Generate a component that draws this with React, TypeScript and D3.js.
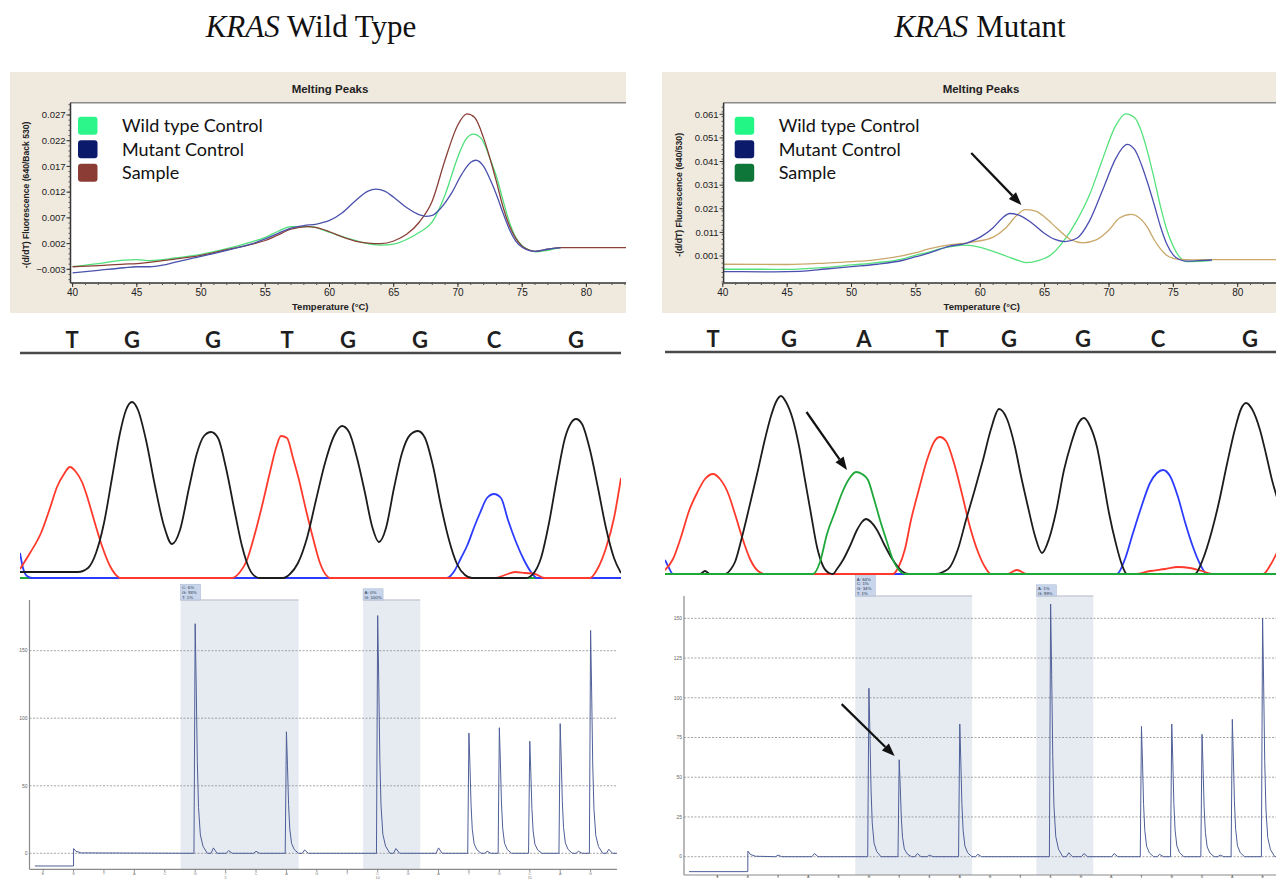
import React from 'react';
import * as d3 from 'd3';

type Pt = [number, number];

// ---------- melting peaks: [temperature °C, -(d/dT) fluorescence] ----------
const wtWildCtrl: Pt[] = [[40,-0.0025],[42,-0.0019],[44,-0.0012],[45,-0.0011],[46,-0.0013],[48,-0.0008],[50,-0.0001],[52,0.0010],[54,0.0024],[55,0.0032],[56,0.0044],[57,0.0053],[58.5,0.0053],[60,0.0042],[62,0.0026],[64,0.0017],[65,0.0019],[66,0.0028],[67,0.0042],[68,0.0062],[69,0.0115],[70,0.0189],[70.6,0.0222],[71.2,0.0233],[71.8,0.0225],[72.5,0.0185],[73,0.0150],[73.5,0.0105],[74,0.0062],[74.5,0.0032],[75,0.0016],[75.5,0.0008],[76,0.0004],[77,0.0007],[78,0.0012]];
const wtMutCtrl: Pt[] = [[40,-0.0037],[42,-0.0032],[44,-0.0027],[45,-0.0025],[46,-0.0025],[47,-0.0022],[48,-0.0016],[50,-0.0005],[52,0.0007],[54,0.0020],[55,0.0029],[56,0.0040],[57,0.0050],[58,0.0055],[59,0.0058],[60,0.0065],[61,0.0080],[62,0.0103],[63,0.0122],[63.6,0.0126],[64.3,0.0122],[65,0.0110],[66,0.0090],[67,0.0076],[67.5,0.0073],[68,0.0075],[68.7,0.0090],[69.5,0.0118],[70.3,0.0155],[71,0.0178],[71.4,0.0182],[72,0.0170],[72.5,0.0145],[73,0.0115],[73.5,0.0080],[74,0.0048],[74.5,0.0025],[75,0.0013],[75.5,0.0007],[76,0.0005],[77,0.0009],[78,0.0012]];
const wtSample: Pt[] = [[40,-0.0025],[42,-0.0023],[44,-0.0020],[45,-0.0019],[47,-0.0013],[50,-0.0003],[52,0.0008],[54,0.0019],[55,0.0026],[56,0.0037],[57,0.0048],[58.3,0.0053],[59,0.0051],[60,0.0043],[61,0.0033],[62,0.0025],[63,0.0021],[64,0.0020],[65,0.0025],[66,0.0038],[67,0.0062],[68,0.0103],[69,0.0183],[70,0.0251],[70.7,0.0272],[71.3,0.0265],[72,0.0225],[72.5,0.0185],[73,0.0140],[73.5,0.0092],[74,0.0055],[74.5,0.0030],[75,0.0015],[75.5,0.0008],[76,0.0005],[77,0.0009],[78,0.0012],[80,0.0012],[83.2,0.0012]];

const mtWildCtrl: Pt[] = [[40,-0.0046],[43,-0.0046],[45,-0.0047],[48,-0.0038],[50,-0.0028],[52,-0.0018],[54,-0.0002],[55,0.0014],[56,0.0026],[57,0.0042],[58,0.0052],[58.8,0.0056],[60,0.0047],[61,0.0030],[62,0.0010],[63,-0.0010],[63.6,-0.0018],[64.5,-0.0010],[65.5,0.0015],[66.5,0.0075],[67.5,0.0160],[68.5,0.0270],[69.5,0.0420],[70.5,0.0560],[71.3,0.0612],[72,0.0595],[72.5,0.0540],[73,0.0450],[73.5,0.0340],[74,0.0220],[74.5,0.0120],[75,0.0050],[75.5,0.0005],[76,-0.0014],[77,-0.0013],[78,-0.0008]];
const mtMutCtrl: Pt[] = [[40,-0.0056],[44,-0.0057],[46,-0.0055],[48,-0.0045],[50,-0.0035],[52,-0.0025],[54,-0.0008],[55,0.0007],[56,0.0022],[57.5,0.0050],[59,0.0066],[60,0.0090],[61,0.0130],[61.7,0.0170],[62.3,0.0190],[63,0.0183],[64,0.0150],[65,0.0105],[65.8,0.0080],[66.6,0.0071],[67.5,0.0085],[68.5,0.0160],[69.5,0.0288],[70.5,0.0420],[71,0.0465],[71.4,0.0483],[72,0.0460],[72.5,0.0400],[73,0.0320],[73.5,0.0230],[74,0.0135],[74.5,0.0060],[75,0.0014],[75.5,-0.0006],[76,-0.0012],[77,-0.0010],[78,-0.0007]];
const mtSample: Pt[] = [[40,-0.0025],[45,-0.0026],[48,-0.0020],[50,-0.0014],[52,-0.0005],[54,0.0012],[55,0.0024],[56,0.0040],[57.5,0.0056],[59.5,0.0070],[61,0.0090],[62,0.0130],[62.8,0.0180],[63.5,0.0206],[64.3,0.0200],[65,0.0175],[66,0.0125],[67,0.0080],[68,0.0066],[69,0.0078],[70,0.0120],[70.8,0.0170],[71.7,0.0186],[72.5,0.0165],[73,0.0130],[73.5,0.0080],[74,0.0040],[74.5,0.0012],[75,0.0000],[75.5,-0.0004],[76.5,-0.0006],[78,-0.0005],[83.2,-0.0005]];

const legendLabels = ['Wild type Control', 'Mutant Control', 'Sample'];
const tempTicks = [40, 45, 50, 55, 60, 65, 70, 75, 80];
const wtFluorTicks = [-0.003, 0.002, 0.007, 0.012, 0.017, 0.022, 0.027];
const mtFluorTicks = [0.001, 0.011, 0.021, 0.031, 0.041, 0.051, 0.061];

// ---------- sequencing traces: [scan, signal] ----------
const wtBlack: Pt[] = [[0,6],[58,6],[68,10],[76,25],[84,55],[92,100],[100,145],[106,168],[112,176],[118,168],[126,138],[135,92],[144,52],[152,34],[160,48],[169,90],[177,125],[184,142],[191,146],[198,140],[206,110],[215,65],[222,32],[229,10],[236,1],[240,0],[263,0],[270,4],[278,15],[287,40],[296,78],[305,115],[314,142],[322,152],[329,146],[337,120],[345,85],[352,52],[359,36],[366,50],[374,90],[382,125],[390,143],[398,147],[405,140],[413,112],[421,72],[429,38],[437,14],[445,3],[452,0],[506,0],[513,4],[521,20],[529,55],[537,100],[545,140],[551,155],[556,159],[562,154],[570,128],[578,90],[586,50],[594,20],[601,5]];
const wtRed: Pt[] = [[0,9],[10,25],[21,45],[30,70],[37,91],[44,104],[50,111],[56,106],[62,96],[66,85],[74,58],[82,32],[90,12],[97,2],[100,0],[212,0],[220,6],[227,18],[234,41],[242,72],[250,106],[256,130],[261,142],[267,140],[273,120],[279,98],[286,68],[293,40],[300,15],[306,3],[310,0],[475,0],[485,3],[495,6],[505,5],[515,4],[525,0],[570,0],[578,10],[586,30],[594,60],[601,100]];
const wtBlue: Pt[] = [[0,25],[3,10],[7,2],[12,0],[427,0],[435,8],[441,20],[447,32],[455,53],[460,65],[467,80],[474,84],[481,80],[488,58],[496,36],[504,18],[511,6],[517,0],[601,0]];
const wtGreen: Pt[] = [[0,0],[601,0]];
const wtBases = ['T', 'G', 'G', 'T', 'G', 'G', 'C', 'G'];
const wtBaseScan = [52, 112, 193, 267, 328, 400, 474, 556];

const mtBlack: Pt[] = [[0,0],[35,0],[40,3],[45,0],[60,0],[66,5],[70,12],[77,37],[85,70],[93,104],[100,135],[106,158],[111,172],[116,178],[121,172],[128,154],[134,128],[140,94],[146,60],[152,27],[158,8],[164,1],[168,0],[172,5],[178,14],[185,28],[192,44],[197,52],[201,55],[206,52],[212,44],[219,30],[226,17],[233,7],[240,1],[246,0],[270,0],[278,2],[285,7],[293,25],[301,54],[310,85],[318,114],[326,145],[334,165],[342,155],[350,127],[356,98],[363,67],[370,38],[377,21],[384,35],[391,62],[399,104],[406,130],[413,150],[419,156],[425,148],[432,127],[438,95],[444,61],[451,30],[457,9],[462,0],[530,0],[538,15],[546,40],[554,72],[562,110],[570,145],[576,165],[581,171],[587,165],[595,144],[601,120],[607,94],[615,67]];
const mtRed: Pt[] = [[0,4],[8,15],[16,37],[24,63],[32,81],[40,95],[48,100],[55,95],[63,81],[70,60],[77,37],[85,15],[93,3],[100,0],[228,0],[234,8],[240,25],[246,54],[254,85],[262,114],[269,132],[275,137],[281,133],[289,111],[297,80],[305,47],[313,22],[320,7],[326,0],[342,0],[352,4],[362,0],[470,0],[485,3],[500,5],[513,7],[525,6],[537,3],[548,0],[598,0],[606,10],[615,28]];
const mtGreen: Pt[] = [[0,0],[148,0],[155,12],[162,40],[170,62],[177,81],[184,95],[191,102],[197,100],[203,94],[209,75],[215,54],[222,32],[228,14],[234,4],[240,0],[611,0]];
const mtBlue: Pt[] = [[0,14],[4,6],[8,0],[452,0],[460,15],[468,41],[476,66],[485,91],[492,101],[498,104],[505,98],[513,77],[520,52],[528,27],[535,10],[542,0],[611,0]];
const mtBases = ['T', 'G', 'A', 'T', 'G', 'G', 'C', 'G'];
const mtBaseScan = [48, 124, 199, 277, 344, 418, 493, 585];

// ---------- pyrograms: [dispensation, light units] ----------
const dispensation = ['E', 'S', 'T', 'A', 'C', 'G', 'T', 'C', 'A', 'G', 'T', 'C', 'G', 'A', 'T', 'G', 'C', 'A', 'G'];
const wtPyroPeaks: Pt[] = [[4,170],[7,90],[10,176],[13,89],[14,93],[15,83],[16,96],[17,165]];
const wtPyroBumps: Pt[] = [[4.6,4],[5.1,2],[6.0,1.5],[7.6,2.5],[10.6,3.5],[12,4],[13.6,1.5],[16.6,1.5],[17.6,3]];
const mtPyroPeaks: Pt[] = [[4,106],[5,61],[7,83.5],[10,159],[13,82],[14,83.5],[15,77],[16,86.4],[17,150]];
const mtPyroBumps: Pt[] = [[1.0,1],[2.2,2],[5.6,2],[6.0,1],[7.6,1.5],[10.6,2.5],[11.1,2],[12.1,2],[13.6,1.5],[15.6,1]];
const wtPyroTicks = [0, 50, 100, 150];
const mtPyroTicks = [0, 25, 50, 75, 100, 125, 150];
const wtBands = [{ d0: 3.52, d1: 7.4, lines: ['C: 6%', 'G: 93%', 'T: 1%'] }, { d0: 9.52, d1: 11.4, lines: ['A: 0%', 'G: 100%'] }];
const mtBands = [{ d0: 3.55, d1: 7.41, lines: ['A: 64%', 'C: 1%', 'G: 34%', 'T: 1%'] }, { d0: 9.53, d1: 11.41, lines: ['A: 1%', 'G: 99%'] }];

// shape of a single pyrogram peak: [offset in dispensations, fraction of height]
const peakShape: Pt[] = [[-0.04,0],[0,1],[0.035,0.72],[0.07,0.4],[0.11,0.2],[0.17,0.08],[0.26,0.03],[0.4,0]];

const SANS = "'Liberation Sans', Arial, sans-serif";
const H = 879;

function Arrow({ x1, y1, x2, y2 }: { x1: number; y1: number; x2: number; y2: number }) {
  const a = Math.atan2(y2 - y1, x2 - x1);
  const L = 13, W = 5;
  const bx = x2 - L * Math.cos(a), by = y2 - L * Math.sin(a);
  const px = -Math.sin(a) * W, py = Math.cos(a) * W;
  return (
    <g>
      <line x1={x1} y1={y1} x2={bx} y2={by} stroke="#111" strokeWidth={2.2} />
      <path d={`M${x2},${y2}L${bx + px},${by + py}L${bx - px},${by - py}Z`} fill="#111" />
    </g>
  );
}

function MeltPanel(props: any) {
  const { id, box, plot, x, y, yTicks, minorStep, series, legendColors, legendX, yLabel, yLabelX, arrow } = props;
  const line = d3.line<Pt>().x(d => x(d[0])).y(d => y(d[1])).curve(d3.curveMonotoneX);
  const fmt = d3.format('.3f');
  const [yLo, yHi] = [y.invert(plot.b), y.invert(plot.t)];
  const minor = d3.range(Math.ceil(yLo / minorStep) * minorStep, yHi, minorStep);
  const xMinor = d3.range(40, x.invert(plot.r), 1);
  const rows = [125.7, 149.3, 172.7];
  const midX = (plot.l + Math.min(plot.r, 1276)) / 2;
  return (
    <g fontFamily={SANS}>
      <rect x={box.x} y={box.y} width={box.w} height={box.h} fill="#efe9de" />
      <text x={box.x + box.w / 2 + 12} y={93} textAnchor="middle" fontWeight="bold" fontSize={11.5} fill="#222">Melting Peaks</text>
      <rect x={plot.l} y={plot.t} width={plot.r - plot.l} height={plot.b - plot.t} fill="#fff" />
      <clipPath id={id}>
        <rect x={plot.l} y={plot.t} width={plot.r - plot.l} height={plot.b - plot.t} />
      </clipPath>
      <g clipPath={`url(#${id})`} fill="none" strokeWidth={1.3}>
        {series.map((s: any, i: number) => (
          <path key={i} d={line(s.data) || ''} stroke={s.color} />
        ))}
      </g>
      <line x1={plot.l} x2={plot.r} y1={plot.t} y2={plot.t} stroke="#8a8a8a" strokeWidth={1.5} />
      <line x1={plot.l} x2={plot.l} y1={plot.t} y2={plot.b} stroke="#333" strokeWidth={1.5} />
      <line x1={plot.l} x2={plot.r} y1={plot.b} y2={plot.b} stroke="#333" strokeWidth={1.5} />
      {minor.map((v: number, i: number) => (
        <line key={'m' + i} x1={plot.l - 2} x2={plot.l} y1={y(v)} y2={y(v)} stroke="#555" />
      ))}
      {yTicks.map((v: number) => (
        <g key={v}>
          <line x1={plot.l - 4} x2={plot.l} y1={y(v)} y2={y(v)} stroke="#333" />
          <text x={plot.l - 5} y={y(v)} dy="0.35em" textAnchor="end" fontSize={9.5} fill="#222">{fmt(v)}</text>
        </g>
      ))}
      {xMinor.map((v: number) => (
        <line key={'x' + v} x1={x(v)} x2={x(v)} y1={plot.b} y2={plot.b + 2} stroke="#555" />
      ))}
      {tempTicks.map(v => (
        <g key={v}>
          <line x1={x(v)} x2={x(v)} y1={plot.b} y2={plot.b + 4} stroke="#333" />
          <text x={x(v)} y={plot.b + 13} textAnchor="middle" fontSize={10} fill="#222">{v}</text>
        </g>
      ))}
      <text x={midX - 18} y={310} textAnchor="middle" fontWeight="bold" fontSize={9.5} fill="#222">Temperature (°C)</text>
      <text transform={`translate(${yLabelX},${(plot.t + plot.b) / 2 + 2}) rotate(-90)`} textAnchor="middle" fontWeight="bold" fontSize={8.6} fill="#222">{yLabel}</text>
      {legendLabels.map((lab, i) => (
        <g key={lab}>
          <rect x={legendX} y={rows[i] - 9} width={19.5} height={18} rx={3} fill={legendColors[i]} />
          <text x={legendX + 44} y={rows[i] + 6.5} fontFamily="Lato, 'Open Sans', sans-serif" fontSize={18} fill="#111">{lab}</text>
        </g>
      ))}
      {arrow && <Arrow x1={x(arrow[0][0])} y1={y(arrow[0][1])} x2={x(arrow[1][0])} y2={y(arrow[1][1])} />}
    </g>
  );
}

function Chromatogram(props: any) {
  const { id, x, y, traces, bases, baseScan, lineY, arrow } = props;
  const [x0, x1] = x.range();
  const line = d3.line<Pt>().x(d => x(d[0])).y(d => y(d[1])).curve(d3.curveMonotoneX);
  return (
    <g>
      <line x1={x0} x2={x1} y1={lineY} y2={lineY} stroke="#4a4a4a" strokeWidth={2.6} />
      {bases.map((b: string, i: number) => (
        <text key={i} x={x(baseScan[i])} y={lineY - 5} textAnchor="middle" fontFamily="Lato, 'Open Sans', sans-serif" fontWeight="bold" fontSize={22} fill="#1e1e1e">{b}</text>
      ))}
      <clipPath id={id}>
        <rect x={x0} y={lineY + 10} width={x1 - x0} height={y(0) - lineY} />
      </clipPath>
      <g clipPath={`url(#${id})`} fill="none" strokeWidth={1.8} strokeLinejoin="round">
        {traces.map((t: any, i: number) => (
          <path key={i} d={line(t.data) || ''} stroke={t.color} />
        ))}
      </g>
      {arrow && <Arrow x1={x(arrow[0][0])} y1={y(arrow[0][1])} x2={x(arrow[1][0])} y2={y(arrow[1][1])} />}
    </g>
  );
}

function pyroTrace(start: number, end: number, peaks: Pt[], bumps: Pt[]): Pt[] {
  const pts: Pt[] = [[start, -9.4], [0, -9.4], [0.003, 3.5], [0.08, 1.5], [0.25, 0.3]];
  peaks.forEach(([d, h]) => peakShape.forEach(([o, f]) => pts.push([d + o, h * f])));
  bumps.forEach(([d, h]) => pts.push([d - 0.08, 0], [d, h], [d + 0.12, 0]));
  pts.push([end, 0]);
  return pts.sort((a, b) => a[0] - b[0]);
}

function Pyrogram(props: any) {
  const { x, y, yTicks, axis, bands, peaks, bumps, start, arrow } = props;
  const trace = pyroTrace(start, x.invert(axis.r), peaks, bumps);
  const line = d3.line<Pt>().x(d => x(d[0])).y(d => y(d[1]));
  const ticks = d3.range(-1, 18);
  // tick letters sit just under the axis; keep them inside the picture
  const letterY = Math.min(axis.b + 5.5, H - 1);
  const numberY = letterY + 3.8;
  return (
    <g fontFamily={SANS}>
      {bands.map((b: any, i: number) => {
        const bx0 = x(b.d0), bx1 = x(b.d1);
        const h = b.lines.length * 4.6 + 2;
        return (
          <g key={i}>
            <rect x={bx0} y={axis.t} width={bx1 - bx0} height={axis.b - axis.t} fill="#e6ebf2" />
            <line x1={bx0} x2={bx1} y1={axis.t} y2={axis.t} stroke="#c9ced6" strokeWidth={1.5} />
            <rect x={bx0} y={axis.t - h} width={20} height={h} fill="#c8d5ea" stroke="#a5b5d0" strokeWidth={0.5} />
            {b.lines.map((s: string, j: number) => (
              <text key={j} x={bx0 + 1.5} y={axis.t - h + 5.2 + j * 4.6} fontSize={4.4} fill="#2a3550">{s}</text>
            ))}
          </g>
        );
      })}
      {yTicks.map((v: number) => (
        <g key={v}>
          <line x1={axis.l} x2={axis.r} y1={y(v)} y2={y(v)} stroke="#9a9a9a" strokeDasharray="2,1.5" strokeWidth={0.9} />
          <text x={axis.l - 2} y={y(v)} dy="0.35em" textAnchor="end" fontSize={5} fill="#666">{v}</text>
        </g>
      ))}
      <line x1={axis.l} x2={axis.l} y1={axis.t} y2={axis.b} stroke="#8a8a8a" strokeWidth={1.2} />
      <line x1={axis.l} x2={axis.r} y1={axis.b} y2={axis.b} stroke="#8a8a8a" strokeWidth={1.2} />
      {ticks.map(d => (
        <g key={d}>
          <line x1={x(d)} x2={x(d)} y1={axis.b} y2={axis.b + 2.5} stroke="#8a8a8a" />
          <text x={x(d)} y={letterY} textAnchor="middle" fontSize={3.8} fill="#777">{dispensation[d + 1]}</text>
          {d > 0 && d % 5 === 0 && numberY < H && (
            <text x={x(d)} y={numberY} textAnchor="middle" fontSize={3.8} fill="#777">{d}</text>
          )}
        </g>
      ))}
      <path d={line(trace) || ''} fill="none" stroke="#4f5f98" strokeWidth={1} />
      {arrow && <Arrow x1={x(arrow[0][0])} y1={y(arrow[0][1])} x2={x(arrow[1][0])} y2={y(arrow[1][1])} />}
    </g>
  );
}

export default function App() {
  const wtMeltX = d3.scaleLinear().domain([40, 80]).range([72.6, 586.4]);
  const wtMeltY = d3.scaleLinear().domain([-0.003, 0.027]).range([269.3, 115]);
  const mtMeltX = d3.scaleLinear().domain([40, 80]).range([722.8, 1237.7]);
  const mtMeltY = d3.scaleLinear().domain([0.001, 0.061]).range([256, 114.3]);

  const wtSeqX = d3.scaleLinear().domain([0, 601]).range([20, 621]);
  const wtSeqY = d3.scaleLinear().domain([0, 218]).range([578, 360]);
  const mtSeqX = d3.scaleLinear().domain([0, 611]).range([665, 1276]);
  const mtSeqY = d3.scaleLinear().domain([0, 222]).range([574, 352]);

  const wtPyroX = d3.scaleLinear().domain([-1, 17]).range([43.1, 590.6]);
  const wtPyroY = d3.scaleLinear().domain([0, 150]).range([853.3, 650.7]);
  const mtPyroX = d3.scaleLinear().domain([-1, 17]).range([717.5, 1262.6]);
  const mtPyroY = d3.scaleLinear().domain([0, 150]).range([856.7, 618.3]);

  return (
    <svg width={1276} height={H} style={{ position: 'absolute', left: 0, top: 0, background: '#fff', display: 'block' }}>
      <rect width={1276} height={H} fill="#fff" />
      <text x={311} y={37} textAnchor="middle" fontFamily="'Liberation Serif', 'Times New Roman', serif" fontSize={31} fill="#111">
        <tspan fontStyle="italic">KRAS</tspan> Wild Type
      </text>
      <text x={980} y={37} textAnchor="middle" fontFamily="'Liberation Serif', 'Times New Roman', serif" fontSize={31} fill="#111">
        <tspan fontStyle="italic">KRAS</tspan> Mutant
      </text>

      <MeltPanel
        id="clipWtMelt"
        box={{ x: 10, y: 72, w: 616, h: 241 }}
        plot={{ l: 70.5, r: 626, t: 102.7, b: 283 }}
        x={wtMeltX}
        y={wtMeltY}
        yTicks={wtFluorTicks}
        minorStep={0.001}
        series={[
          { data: wtWildCtrl, color: '#4fe07a' },
          { data: wtSample, color: '#8a4038' },
          { data: wtMutCtrl, color: '#4a52ac' },
        ]}
        legendColors={['#2cf58a', '#0c1a6b', '#8b3d35']}
        legendX={78}
        yLabel="-(d/dT) Fluorescence (640/Back 530)"
        yLabelX={29}
      />
      <MeltPanel
        id="clipMtMelt"
        box={{ x: 662, y: 72, w: 614, h: 241 }}
        plot={{ l: 723.6, r: 1276, t: 102.7, b: 283 }}
        x={mtMeltX}
        y={mtMeltY}
        yTicks={mtFluorTicks}
        minorStep={0.002}
        series={[
          { data: mtWildCtrl, color: '#55e27c' },
          { data: mtSample, color: '#c9a86a' },
          { data: mtMutCtrl, color: '#4b4fb0' },
        ]}
        legendColors={['#22f785', '#0c1a6b', '#0e7638']}
        legendX={734.7}
        yLabel="-(d/dT) Fluorescence (640/530)"
        yLabelX={682}
        arrow={[[59.3, 0.0446], [63.2, 0.0226]]}
      />

      <Chromatogram
        id="clipWtSeq"
        x={wtSeqX}
        y={wtSeqY}
        lineY={353}
        bases={wtBases}
        baseScan={wtBaseScan}
        traces={[
          { data: wtGreen, color: '#1fa83a' },
          { data: wtBlue, color: '#2b3cff' },
          { data: wtRed, color: '#ff3a2c' },
          { data: wtBlack, color: '#1c1c1c' },
        ]}
      />
      <Chromatogram
        id="clipMtSeq"
        x={mtSeqX}
        y={mtSeqY}
        lineY={352}
        bases={mtBases}
        baseScan={mtBaseScan}
        traces={[
          { data: mtBlue, color: '#2b3cff' },
          { data: mtRed, color: '#ff3a2c' },
          { data: mtBlack, color: '#1c1c1c' },
          { data: mtGreen, color: '#1fa83a' },
        ]}
        arrow={[[141.5, 162], [182, 104]]}
      />

      <Pyrogram
        x={wtPyroX}
        y={wtPyroY}
        yTicks={wtPyroTicks}
        axis={{ l: 29.5, r: 617, t: 600, b: 869.3 }}
        bands={wtBands}
        peaks={wtPyroPeaks}
        bumps={wtPyroBumps}
        start={-1.27}
      />
      <Pyrogram
        x={mtPyroX}
        y={mtPyroY}
        yTicks={mtPyroTicks}
        axis={{ l: 684, r: 1276, t: 596, b: 875 }}
        bands={mtBands}
        peaks={mtPyroPeaks}
        bumps={mtPyroBumps}
        start={-1.94}
        arrow={[[3.1, 96], [4.85, 63.3]]}
      />
    </svg>
  );
}
